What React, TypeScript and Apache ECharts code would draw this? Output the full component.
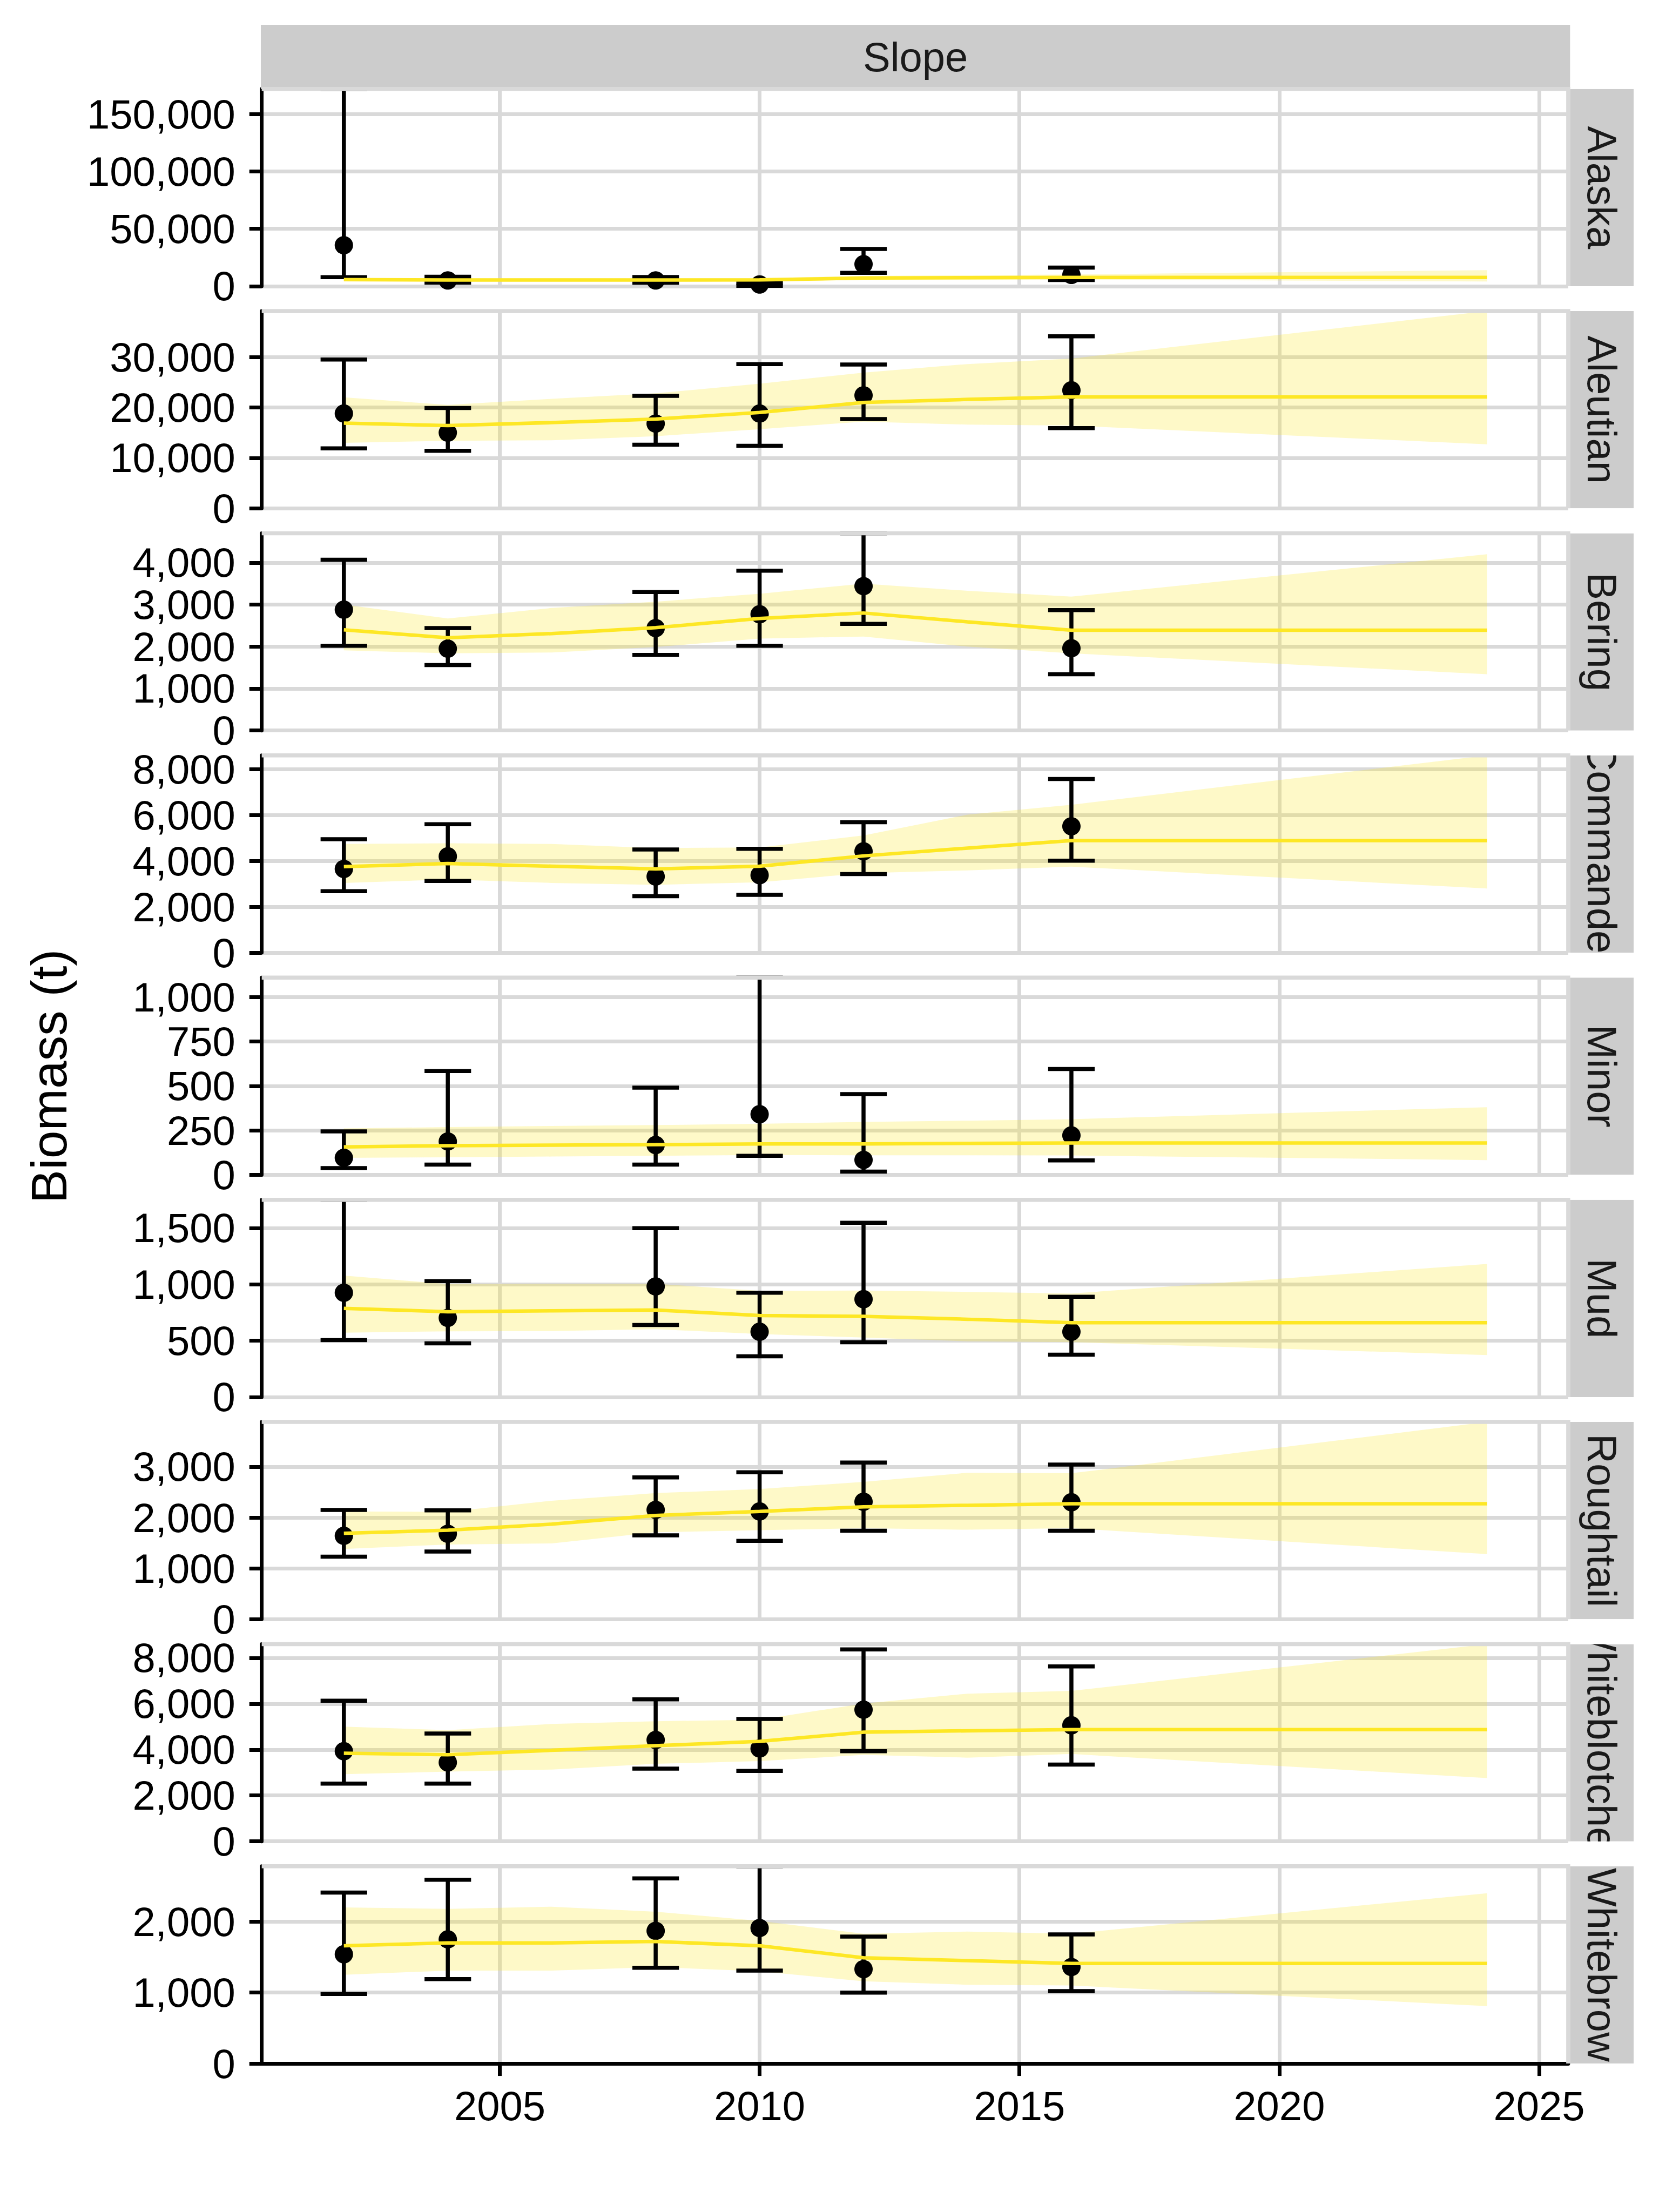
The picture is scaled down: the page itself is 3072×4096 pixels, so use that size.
import React, { useEffect, useRef } from "react";
import * as echarts from "echarts";

// ---------------- data ----------------
const facetTitle = "Slope";
const yTitle = "Biomass (t)";
const regions = ["Alaska", "Aleutian", "Bering", "Commander", "Minor", "Mud", "Roughtail", "Whiteblotched", "Whitebrow"];
const surveyYears = [2002, 2004, 2008, 2010, 2012, 2016];
const fitYears = [2002, 2004, 2006, 2008, 2010, 2012, 2014, 2016, 2024];
const xTicks = [2005, 2010, 2015, 2020, 2025];

const alaskaEst = [35700, 5000, 5000, 1500, 19200, 9800];
const alaskaLo = [7900, 3200, 3000, 300, 11600, 5400];
const alaskaHi = [172000, 8200, 8000, 3200, 32500, 16200];
const alaskaFit = [5700, 5400, 5400, 5400, 5500, 7100, 7400, 7600, 7600];
const alaskaFitLo = [4500, 4300, 4200, 4300, 4100, 5600, 5700, 5800, 4100];
const alaskaFitHi = [7200, 6800, 6900, 6800, 7000, 8900, 9500, 10200, 14000];
const alaskaTicks = [0, 50000, 100000, 150000];

const aleutianEst = [18800, 15000, 16800, 18800, 22400, 23400];
const aleutianLo = [11900, 11400, 12600, 12400, 17700, 15900];
const aleutianHi = [29500, 19900, 22300, 28600, 28500, 34100];
const aleutianFit = [16900, 16400, 17000, 17700, 19000, 21000, 21600, 22100, 22100];
const aleutianFitLo = [13000, 13400, 13500, 14300, 15700, 17200, 16600, 16400, 12700];
const aleutianFitHi = [22000, 20500, 21700, 22800, 24700, 26900, 28600, 29700, 39100];
const aleutianTicks = [0, 10000, 20000, 30000];

const beringEst = [2880, 1950, 2440, 2770, 3440, 1960];
const beringLo = [2020, 1560, 1800, 2020, 2540, 1340];
const beringHi = [4070, 2440, 3300, 3810, 4700, 2870];
const beringFit = [2400, 2210, 2310, 2450, 2670, 2800, 2590, 2390, 2390];
const beringFitLo = [1910, 1840, 1860, 1990, 2190, 2240, 2000, 1840, 1340];
const beringFitHi = [3000, 2670, 2920, 3070, 3260, 3500, 3330, 3190, 4200];
const beringTicks = [0, 1000, 2000, 3000, 4000];

const commanderEst = [3650, 4200, 3320, 3380, 4420, 5510];
const commanderLo = [2680, 3130, 2460, 2520, 3430, 4010];
const commanderHi = [4950, 5600, 4500, 4530, 5690, 7570];
const commanderFit = [3750, 3890, 3770, 3650, 3770, 4220, 4560, 4890, 4890];
const commanderFitLo = [3040, 3190, 3040, 2960, 3070, 3470, 3590, 3750, 2800];
const commanderFitHi = [4740, 4770, 4740, 4560, 4590, 5110, 6020, 6450, 8600];
const commanderTicks = [0, 2000, 4000, 6000, 8000];

const minorEst = [96, 188, 168, 341, 84, 222];
const minorLo = [38, 58, 58, 107, 18, 81];
const minorHi = [245, 584, 491, 1110, 454, 596];
const minorFit = [157, 164, 167, 170, 174, 174, 177, 179, 179];
const minorFitLo = [96, 99, 103, 107, 112, 110, 110, 109, 83];
const minorFitHi = [261, 269, 275, 280, 287, 298, 305, 313, 381];
const minorTicks = [0, 250, 500, 750, 1000];

const mudEst = [925, 702, 981, 579, 868, 579];
const mudLo = [505, 476, 639, 361, 486, 375];
const mudHi = [1750, 1029, 1498, 925, 1546, 889];
const mudFit = [786, 757, 765, 772, 723, 716, 690, 659, 659];
const mudFitLo = [571, 583, 585, 602, 559, 528, 494, 487, 372];
const mudFitHi = [1077, 1002, 1004, 1005, 942, 945, 933, 918, 1181];
const mudTicks = [0, 500, 1000, 1500];

const roughtailEst = [1640, 1680, 2150, 2120, 2310, 2300];
const roughtailLo = [1230, 1330, 1650, 1540, 1740, 1740];
const roughtailHi = [2150, 2140, 2790, 2890, 3080, 3040];
const roughtailFit = [1690, 1750, 1870, 2040, 2120, 2210, 2240, 2270, 2270];
const roughtailFitLo = [1380, 1470, 1490, 1710, 1750, 1790, 1760, 1790, 1280];
const roughtailFitHi = [2120, 2110, 2330, 2480, 2560, 2700, 2880, 2870, 3880];
const roughtailTicks = [0, 1000, 2000, 3000];

const whiteblotchedEst = [3930, 3440, 4420, 4050, 5740, 5060];
const whiteblotchedLo = [2520, 2520, 3170, 3070, 3930, 3350];
const whiteblotchedHi = [6130, 4700, 6190, 5340, 8370, 7630];
const whiteblotchedFit = [3840, 3780, 3970, 4170, 4360, 4760, 4820, 4870, 4870];
const whiteblotchedFitLo = [2930, 3040, 3130, 3380, 3500, 3770, 3650, 3810, 2760];
const whiteblotchedFitHi = [5000, 4850, 5120, 5240, 5300, 6010, 6440, 6560, 8600];
const whiteblotchedTicks = [0, 2000, 4000, 6000, 8000];

const whitebrowEst = [1540, 1750, 1870, 1910, 1330, 1360];
const whitebrowLo = [980, 1190, 1350, 1310, 1000, 1020];
const whitebrowHi = [2410, 2590, 2610, 2780, 1790, 1820];
const whitebrowFit = [1660, 1700, 1700, 1720, 1660, 1490, 1450, 1410, 1410];
const whitebrowFitLo = [1250, 1310, 1310, 1360, 1300, 1160, 1110, 1100, 810];
const whitebrowFitHi = [2200, 2180, 2210, 2140, 2010, 1830, 1860, 1830, 2400];
const whitebrowTicks = [0, 1000, 2000];

// ---------------- layout / style ----------------
const S = 3072 / 3600;
const PX = (v: number) => v * S;
const FONT = "'Liberation Sans', Arial, Helvetica, sans-serif";
const GRID_LEFT = PX(568);
const GRID_RIGHT = PX(3403);
const GRID_W = GRID_RIGHT - GRID_LEFT;
const GRID_H = PX(428);
const gridTop = (i: number) => PX(193 + i * 482.1);
const STRIP_X = PX(3407);
const STRIP_W = PX(3545 - 3407);
const X_MIN = 2000.42;
const X_MAX = 2025.56;
const CAP_HALF = 0.448; // years
const GRID_COLOR = "#D9D9D9";
const STRIP_FILL = "#CCCCCC";
const LINE_COLOR = "#FDE725";
const RIBBON_FILL = "rgba(253,231,37,0.25)";
const LABEL_SIZE = 76;

export default function App() {
  const ref = useRef<HTMLDivElement>(null);
  useEffect(() => {
    document.body.style.margin = "0";
    if (!ref.current) return;
    const chart = echarts.init(ref.current, null, { renderer: "svg" });

    const panels = [
      { est: alaskaEst, lo: alaskaLo, hi: alaskaHi, fit: alaskaFit, fitLo: alaskaFitLo, fitHi: alaskaFitHi, ticks: alaskaTicks },
      { est: aleutianEst, lo: aleutianLo, hi: aleutianHi, fit: aleutianFit, fitLo: aleutianFitLo, fitHi: aleutianFitHi, ticks: aleutianTicks },
      { est: beringEst, lo: beringLo, hi: beringHi, fit: beringFit, fitLo: beringFitLo, fitHi: beringFitHi, ticks: beringTicks },
      { est: commanderEst, lo: commanderLo, hi: commanderHi, fit: commanderFit, fitLo: commanderFitLo, fitHi: commanderFitHi, ticks: commanderTicks },
      { est: minorEst, lo: minorLo, hi: minorHi, fit: minorFit, fitLo: minorFitLo, fitHi: minorFitHi, ticks: minorTicks },
      { est: mudEst, lo: mudLo, hi: mudHi, fit: mudFit, fitLo: mudFitLo, fitHi: mudFitHi, ticks: mudTicks },
      { est: roughtailEst, lo: roughtailLo, hi: roughtailHi, fit: roughtailFit, fitLo: roughtailFitLo, fitHi: roughtailFitHi, ticks: roughtailTicks },
      { est: whiteblotchedEst, lo: whiteblotchedLo, hi: whiteblotchedHi, fit: whiteblotchedFit, fitLo: whiteblotchedFitLo, fitHi: whiteblotchedFitHi, ticks: whiteblotchedTicks },
      { est: whitebrowEst, lo: whitebrowLo, hi: whitebrowHi, fit: whitebrowFit, fitLo: whitebrowFitLo, fitHi: whitebrowFitHi, ticks: whitebrowTicks },
    ];
    const n = panels.length;

    const grid: any[] = [];
    const xAxis: any[] = [];
    const yAxis: any[] = [];
    const series: any[] = [];
    const graphic: any[] = [];

    panels.forEach((p, i) => {
      const last = i === n - 1;
      const yMax = Math.max(...p.hi, ...p.fitHi);
      grid.push({ left: GRID_LEFT, top: gridTop(i), width: GRID_W, height: GRID_H, show: false, outerBoundsMode: "none" });
      xAxis.push({
        gridIndex: i, type: "value", min: X_MIN, max: X_MAX, splitNumber: 5,
        axisLine: { show: last, onZero: false, lineStyle: { color: "#000", width: 7 } },
        axisTick: { show: last, length: 23, customValues: xTicks, lineStyle: { color: "#000", width: 7 } },
        axisLabel: {
          show: last, customValues: xTicks, fontSize: LABEL_SIZE, fontFamily: FONT, color: "#000", margin: 46,
          lineHeight: 64, formatter: (v: number) => String(Math.round(v)),
        },
        splitLine: { show: true, lineStyle: { color: GRID_COLOR, width: 7 } },
      });
      yAxis.push({
        gridIndex: i, type: "value", min: 0, max: yMax, interval: p.ticks[1] - p.ticks[0],
        axisLine: { show: true, onZero: false, lineStyle: { color: "#000", width: 7 } },
        axisTick: { show: true, length: 23, customValues: p.ticks, lineStyle: { color: "#000", width: 7 } },
        axisLabel: {
          customValues: p.ticks, fontSize: LABEL_SIZE, fontFamily: FONT, color: "#000", margin: 49, lineHeight: 62,
          formatter: (v: number) => Number(v).toLocaleString("en-US"),
        },
        splitLine: { show: true, lineStyle: { color: GRID_COLOR, width: 7 } },
      });
      // ribbon
      series.push({
        type: "custom", xAxisIndex: i, yAxisIndex: i, silent: true,
        data: fitYears.map((y, k) => [y, p.fitLo[k], p.fitHi[k]]),
        encode: { x: 0, y: [1, 2] },
        renderItem: (params: any, api: any) => {
          if (params.dataIndex !== 0) return null;
          const up = fitYears.map((y, k) => api.coord([y, p.fitHi[k]]));
          const dn = fitYears.map((y, k) => api.coord([y, p.fitLo[k]])).reverse();
          return { type: "polygon", shape: { points: up.concat(dn) }, style: { fill: RIBBON_FILL } };
        },
      });
      // fitted line
      series.push({
        type: "line", xAxisIndex: i, yAxisIndex: i, silent: true, showSymbol: false,
        data: fitYears.map((y, k) => [y, p.fit[k]]),
        lineStyle: { color: LINE_COLOR, width: 6.5 },
      });
      // error bars
      series.push({
        type: "custom", xAxisIndex: i, yAxisIndex: i, silent: true,
        data: surveyYears.map((y, k) => [y, p.lo[k], p.hi[k]]),
        encode: { x: 0, y: [1, 2] },
        renderItem: (params: any, api: any) => {
          const x = api.value(0);
          const a = api.coord([x, api.value(1)]);
          const b = api.coord([x, api.value(2)]);
          const half = api.coord([x + CAP_HALF, api.value(1)])[0] - a[0];
          const st = { stroke: "#000", lineWidth: 7.5 };
          return {
            type: "group",
            children: [
              { type: "line", shape: { x1: a[0], y1: a[1], x2: b[0], y2: b[1] }, style: st },
              { type: "line", shape: { x1: a[0] - half, y1: a[1], x2: a[0] + half, y2: a[1] }, style: st },
              { type: "line", shape: { x1: b[0] - half, y1: b[1], x2: b[0] + half, y2: b[1] }, style: st },
            ],
          };
        },
      });
      // points
      series.push({
        type: "scatter", xAxisIndex: i, yAxisIndex: i, silent: true,
        data: surveyYears.map((y, k) => [y, p.est[k]]),
        symbolSize: 34, itemStyle: { color: "#000", opacity: 1 },
      });
      // panel border (top + right), drawn above data like ggplot's panel.border
      const t = gridTop(i);
      graphic.push({
        type: "polyline", z: 50, silent: true,
        shape: { points: [[GRID_LEFT, t], [GRID_RIGHT, t], [GRID_RIGHT, t + GRID_H]] },
        style: { stroke: GRID_COLOR, lineWidth: 7.5, fill: null },
      });
    });

    // right facet strips with clipped labels
    series.push({
      type: "custom", coordinateSystem: "none", silent: true, z: 60,
      data: regions.map((_, i) => [i]),
      renderItem: (params: any) => {
        const i = params.dataIndex;
        const x = STRIP_X, y = gridTop(i), w = STRIP_W, h = GRID_H;
        return {
          type: "group",
          clipPath: { type: "rect", shape: { x, y, width: w, height: h } },
          children: [
            { type: "rect", shape: { x, y, width: w, height: h }, style: { fill: STRIP_FILL } },
            {
              type: "text", x: x + w / 2, y: y + h / 2, rotation: -Math.PI / 2,
              style: {
                text: regions[i], fill: "#1A1A1A", fontSize: LABEL_SIZE, fontFamily: FONT,
                align: "center", verticalAlign: "middle", textAlign: "center", textVerticalAlign: "middle",
              },
            },
          ],
        };
      },
    });

    // top facet strip
    const topStripY = PX(54), topStripH = PX(193 - 54), topStripX = PX(566);
    graphic.push({
      type: "rect", z: 40, silent: true,
      shape: { x: topStripX, y: topStripY, width: STRIP_X - topStripX, height: topStripH },
      style: { fill: STRIP_FILL },
    });
    graphic.push({
      type: "text", z: 41, silent: true,
      x: (topStripX + STRIP_X) / 2, y: topStripY + topStripH / 2,
      style: {
        text: facetTitle, fill: "#1A1A1A", fontSize: LABEL_SIZE, fontFamily: FONT,
        align: "center", verticalAlign: "middle", textAlign: "center", textVerticalAlign: "middle",
      },
    });
    // y axis title
    graphic.push({
      type: "text", z: 41, silent: true,
      x: PX(107), y: (gridTop(0) + gridTop(n - 1) + GRID_H) / 2, rotation: Math.PI / 2,
      style: {
        text: yTitle, fill: "#000", fontSize: 93, fontFamily: FONT,
        align: "center", verticalAlign: "middle", textAlign: "center", textVerticalAlign: "middle",
      },
    });

    chart.setOption({
      animation: false,
      backgroundColor: "#FFFFFF",
      textStyle: { fontFamily: FONT },
      grid, xAxis, yAxis, series, graphic,
    });
    return () => chart.dispose();
  }, []);
  return <div ref={ref} style={{ width: 3072, height: 4096 }} />;
}
